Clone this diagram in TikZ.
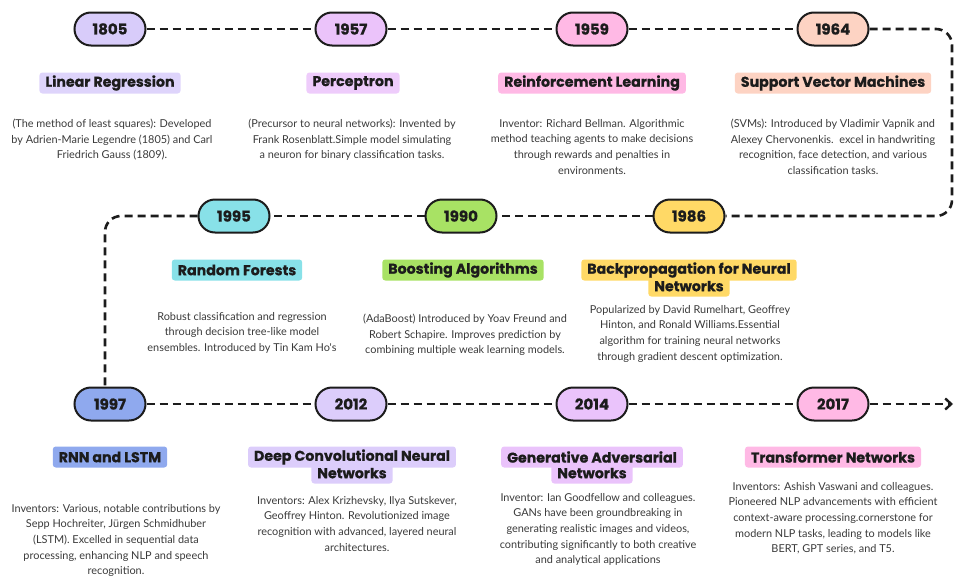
\documentclass[tikz,border=0pt]{standalone}
\usepackage{fontspec}
\setmainfont{Poppins}[BoldFeatures={FakeBold=0.7}]
\newfontfamily\descfont{Lato}
\usetikzlibrary{arrows.meta}
\definecolor{c1805}{HTML}{D8CCFA}
\definecolor{c1957}{HTML}{EBC3FA}
\definecolor{c1959}{HTML}{FFB9E5}
\definecolor{c1964}{HTML}{FDD3C3}
\definecolor{c1995}{HTML}{88E1E8}
\definecolor{c1990}{HTML}{A8E264}
\definecolor{c1986}{HTML}{FFD966}
\definecolor{c1997}{HTML}{8FA9EE}
\definecolor{c2012}{HTML}{DCCDFB}
\definecolor{c2014}{HTML}{EAC3FB}
\definecolor{c2017}{HTML}{FFB9E5}
\definecolor{ink}{HTML}{1C1C1C}
\definecolor{desc}{HTML}{3A3A3A}
\tikzset{
  year/.style={draw=ink, line width=2pt, rounded corners=16.5pt, minimum width=71pt, minimum height=33pt, inner sep=0pt, font=\fontsize{15}{17}\selectfont\bfseries, text=ink},
  ttl/.style={rounded corners=3pt, minimum height=21pt, inner xsep=6pt, inner ysep=0pt, font=\fontsize{14.2}{16}\selectfont\bfseries, text=ink},
  dsc/.style={align=center, anchor=north, inner sep=0pt, text=desc, font=\descfont\fontsize{10.9}{15.6}\selectfont},
  dl/.style={draw=ink, line width=2.6pt, dash pattern=on 8pt off 5pt},
}
\begin{document}
\begin{tikzpicture}[x=1pt,y=-1pt]
\useasboundingbox (0,0) rectangle (967,581);
% row 1
\node[year, fill=c1805] (y1805) at (110,29) {1805};
\node[year, fill=c1957] (y1957) at (351,29) {1957};
\node[year, fill=c1959] (y1959) at (592,29) {1959};
\node[year, fill=c1964] (y1964) at (833,29) {1964};
% row 2
\node[year, fill=c1995] (y1995) at (234,216) {1995};
\node[year, fill=c1990] (y1990) at (461,216) {1990};
\node[year, fill=c1986] (y1986) at (689,216) {1986};
% row 3
\node[year, fill=c1997] (y1997) at (110,404) {1997};
\node[year, fill=c2012] (y2012) at (351,404) {2012};
\node[year, fill=c2014] (y2014) at (592,404) {2014};
\node[year, fill=c2017] (y2017) at (833,404) {2017};
\coordinate (c1) at (952,29);
\coordinate (c2) at (952,216);
\coordinate (c3) at (105,216);
\coordinate (c4) at (105,388);
\coordinate (aend) at (953,404);
% connectors
\draw[dl] (y1805) -- (y1957);
\draw[dl] (y1957) -- (y1959);
\draw[dl] (y1959) -- (y1964);
\draw[dl, rounded corners=16pt] (y1964.east) -- (c1) -- (c2) -- (y1986.east);
\draw[dl] (y1986) -- (y1990);
\draw[dl] (y1990) -- (y1995);
\draw[dl, rounded corners=16pt] (y1995.west) -- (c3) -- (c4);
\draw[dl] (y1997) -- (y2012);
\draw[dl] (y2012) -- (y2014);
\draw[dl] (y2014) -- (y2017);
\draw[dl, -{Straight Barb[length=6pt,width=11pt,line width=2.4pt]}] (y2017.east) -- (aend);
% titles row 1
\node[ttl, fill=c1805!85!white] (t1805) at (110,83) {Linear Regression};
\node[ttl, fill=c1957!85!white] (t1957) at (353,83) {Perceptron};
\node[ttl, fill=c1959] (t1959) at (592,83) {Reinforcement Learning};
\node[ttl, fill=c1964] (t1964) at (833,83) {Support Vector Machines};
% titles row 2
\node[ttl, fill=c1995] (t1995) at (237,270) {Random Forests};
\node[ttl, fill=c1990] (t1990) at (463,270) {Boosting Algorithms};
\node[ttl, fill=c1986] (t1986b) at (689,286) {Networks};
\node[ttl, fill=c1986] (t1986a) at (689,270) {Backpropagation for Neural};
% titles row 3
\node[ttl, fill=c1997] (t1997) at (110,457) {RNN and LSTM};
\node[ttl, fill=c2012] (t2012b) at (352,473) {Networks};
\node[ttl, fill=c2012] (t2012a) at (352,457) {Deep Convolutional Neural};
\node[ttl, fill=c2014] (t2014b) at (592,473) {Networks};
\node[ttl, fill=c2014] (t2014a) at (592,457) {Generative Adversarial};
\node[ttl, fill=c2017] (t2017) at (833,457) {Transformer Networks};
% descriptions row 1
\node[dsc] (d1805) at (112,119) {(The method of least squares): Developed\\by Adrien-Marie Legendre (1805) and Carl\\Friedrich Gauss (1809).};
\node[dsc] (d1957) at (352,119) {(Precursor to neural networks): Invented by\\Frank Rosenblatt.Simple model simulating\\a neuron for binary classification tasks.};
\node[dsc] (d1959) at (592,119) {Inventor: Richard Bellman. Algorithmic\\method teaching agents to make decisions\\through rewards and penalties in\\environments.};
\node[dsc] (d1964) at (833,119) {(SVMs): Introduced by Vladimir Vapnik and\\Alexey Chervonenkis.\ \ excel in handwriting\\recognition, face detection, and various\\classification tasks.};
% descriptions row 2
\node[dsc] (d1995) at (242,312) {Robust classification and regression\\through decision tree-like model\\ensembles. Introduced by Tin Kam Ho's};
\node[dsc] (d1990) at (465,314) {(AdaBoost) Introduced by Yoav Freund and\\Robert Schapire. Improves prediction by\\combining multiple weak learning models.};
\node[dsc] (d1986) at (690,305) {Popularized by David Rumelhart, Geoffrey\\Hinton, and Ronald Williams.Essential\\algorithm for training neural networks\\through gradient descent optimization.};
% descriptions row 3
\node[dsc] (d1997) at (116,504) {Inventors: Various, notable contributions by\\Sepp Hochreiter, Jürgen Schmidhuber\\(LSTM). Excelled in sequential data\\processing, enhancing NLP and speech\\recognition.};
\node[dsc] (d2012) at (357,496) {Inventors: Alex Krizhevsky, Ilya Sutskever,\\Geoffrey Hinton. Revolutionized image\\recognition with advanced, layered neural\\architectures.};
\node[dsc] (d2014) at (598,493) {Inventor: Ian Goodfellow and colleagues.\\GANs have been groundbreaking in\\generating realistic images and videos,\\contributing significantly to both creative\\and analytical applications};
\node[dsc] (d2017) at (833,482) {Inventors: Ashish Vaswani and colleagues.\\Pioneered NLP advancements with efficient\\context-aware processing.cornerstone for\\modern NLP tasks, leading to models like\\BERT, GPT series, and T5.};
\end{tikzpicture}
\end{document}
